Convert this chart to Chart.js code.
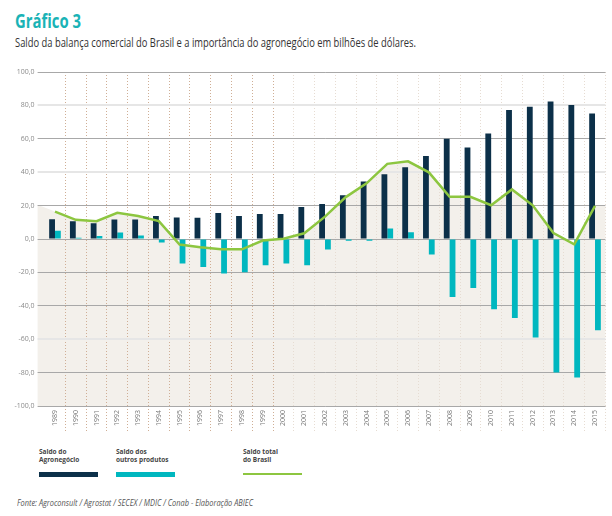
<!DOCTYPE html>
<html>
<head>
<meta charset="utf-8">
<script src="https://cdn.jsdelivr.net/npm/chart.js@4.4.1/dist/chart.umd.min.js"></script>
<style>
  html, body { margin:0; padding:0; background:#fff; }
  body { width:612px; height:516px; position:relative; overflow:hidden; font-family:"Open Sans", sans-serif; }
  .fit { position:absolute; white-space:nowrap; transform-origin:0 0; }
  #title { left:15px; top:7px; font-size:20px; font-weight:700; color:#1ab3b6; }
  #subtitle { left:15px; top:33px; font-size:13px; color:#333; }
  #source { left:17px; top:497px; font-size:8.5px; font-style:italic; color:#555; }
  #chartWrap { position:absolute; left:0; top:0; width:612px; height:440px; }
  .leg { position:absolute; top:448px; font-size:6.5px; font-weight:700; color:#444; line-height:7.5px; }
  .legLine { position:absolute; width:59px; }
</style>
</head>
<body>
<div id="title" class="fit" data-w="66">Gráfico 3</div>
<div id="subtitle" class="fit" data-w="401">Saldo da balança comercial do Brasil e a importância do agronegócio em bilhões de dólares.</div>
<div id="chartWrap"><canvas id="c"></canvas></div>
<div class="leg" style="left:39px">Saldo do<br>Agronegócio</div>
<div class="legLine" style="left:39px; top:472px; height:5px; background:#0c3049"></div>
<div class="leg" style="left:116px">Saldo dos<br>outros produtos</div>
<div class="legLine" style="left:116px; top:472px; height:5px; background:#00b7bf"></div>
<div class="leg" style="left:243px">Saldo total<br>do Brasil</div>
<div class="legLine" style="left:243px; top:473px; height:2px; background:#8dc640"></div>
<div id="source" class="fit" data-w="236">Fonte: Agroconsult / Agrostat / SECEX / MDIC / Conab - Elaboração ABIEC</div>
<script>
const years = ["1989","1990","1991","1992","1993","1994","1995","1996","1997","1998","1999","2000","2001","2002","2003","2004","2005","2006","2007","2008","2009","2010","2011","2012","2013","2014","2015"];
const agro   = [11.8, 10.6, 9.5, 11.7, 11.7, 13.7, 12.9, 12.7, 15.6, 13.8, 14.9, 14.9, 19.2, 21.0, 26.2, 34.4, 38.8, 43.0, 49.7, 60.1, 54.8, 63.2, 77.2, 79.2, 82.4, 80.2, 75.1];
const outros = [5.0, 0.8, 1.8, 3.9, 2.1, -2.1, -14.7, -16.7, -20.7, -19.9, -15.7, -14.7, -15.7, -6.3, -1.1, -1.1, 6.3, 4.0, -9.3, -34.7, -29.3, -42.1, -47.3, -59.0, -80.0, -83.0, -54.6];
const total  = [16.4, 11.5, 10.7, 15.7, 13.8, 10.7, -3.3, -4.9, -6.2, -6.2, -0.9, 0.1, 3.4, 13.4, 25.1, 33.3, 45.0, 46.5, 39.9, 25.3, 25.3, 20.2, 29.7, 20.2, 3.6, -3.2, 19.8];
const yTickValues = [100, 80, 60, 40, 20, 0, -20, -40, -60, -80, -100];
const lightGridValues = [80, 40, -60];

function fmt(v){ return v.toFixed(1).replace('.', ','); }

const areaFill = {
  id: 'areaFill',
  beforeDraw(chart) {
    const meta = chart.getDatasetMeta(0);
    const pts = meta.data;
    if (!pts || pts.length < 2) return;
    const ca = chart.chartArea;
    const ctx = chart.ctx;
    const left = ca.left - 7;
    const p0 = pts[0], p1 = pts[1];
    const yL = p0.y + (p0.y - p1.y) * (p0.x - left) / (p1.x - p0.x);
    const pl = pts[pts.length - 1];
    ctx.save();
    ctx.fillStyle = '#f3f0eb';
    ctx.beginPath();
    ctx.moveTo(left, ca.bottom);
    ctx.lineTo(left, yL);
    pts.forEach(p => ctx.lineTo(p.x, p.y));
    ctx.lineTo(ca.right, pl.y);
    ctx.lineTo(ca.right, ca.bottom);
    ctx.closePath();
    ctx.fill();
    ctx.restore();
  }
};

function yGridColor(ctx){
  const v = ctx.tick ? ctx.tick.value : 0;
  return lightGridValues.includes(v) ? '#e6e6e6' : '#a8a8a8';
}
function yGridWidth(ctx){
  const v = ctx.tick ? ctx.tick.value : 0;
  return lightGridValues.includes(v) ? 2 : 1;
}
function xGridColor(ctx){
  const i = ctx.index;
  if (i === 0 || i >= years.length) return 'rgba(0,0,0,0)';
  return i <= 11 ? '#cfae95' : '#e6dcd2';
}

new Chart(document.getElementById('c'), {
  type: 'bar',
  data: {
    labels: years,
    datasets: [
      { type:'line', label:'Saldo total do Brasil', data: total, borderColor:'#8dc640', borderWidth:2.5, pointRadius:0, tension:0, fill:false, order:0 },
      { label:'Saldo do Agronegócio', data: agro, backgroundColor:'#0c3049', categoryPercentage:0.56, barPercentage:1.0, order:1 },
      { label:'Saldo dos outros produtos', data: outros, backgroundColor:'#00b7bf', categoryPercentage:0.56, barPercentage:1.0, order:1 }
    ]
  },
  options: {
    responsive: true,
    maintainAspectRatio: false,
    animation: false,
    events: [],
    layout: { padding: { left: 0, right: 6.6, top: 72, bottom: 4 } },
    plugins: { legend: { display:false }, tooltip: { enabled:false } },
    scales: {
      x: {
        offset: true,
        border: { display:false, dash: [1, 2] },
        grid: {
          offset: true,
          color: xGridColor,
          lineWidth: 1,
          drawTicks: true,
          tickLength: 26,
          tickColor: xGridColor,
          tickBorderDash: [1, 2],
          tickWidth: 1
        },
        ticks: {
          autoSkip: false,
          minRotation: 90,
          maxRotation: 90,
          padding: -22,
          color: '#7a7a7a',
          font: { family: 'Open Sans', size: 7 }
        },
        afterFit(scale){ scale.height = 30; }
      },
      y: {
        min: -100,
        max: 100,
        border: { display:false },
        afterBuildTicks(scale){ scale.ticks = yTickValues.map(v => ({ value: v })); },
        grid: {
          color: yGridColor,
          lineWidth: yGridWidth,
          drawTicks: true,
          tickLength: 7,
          tickColor: yGridColor,
          tickWidth: yGridWidth
        },
        ticks: {
          padding: 3,
          color: '#8a8a8a',
          font: { family: 'Open Sans', size: 7 },
          callback: (v) => fmt(v)
        },
        afterFit(scale){ scale.width = 44.6; }
      }
    }
  },
  plugins: [areaFill]
});

document.querySelectorAll('.fit').forEach(el => {
  const target = parseFloat(el.dataset.w);
  const w = el.getBoundingClientRect().width;
  if (w > 0) el.style.transform = 'scaleX(' + (target / w) + ')';
});
</script>
</body>
</html>
